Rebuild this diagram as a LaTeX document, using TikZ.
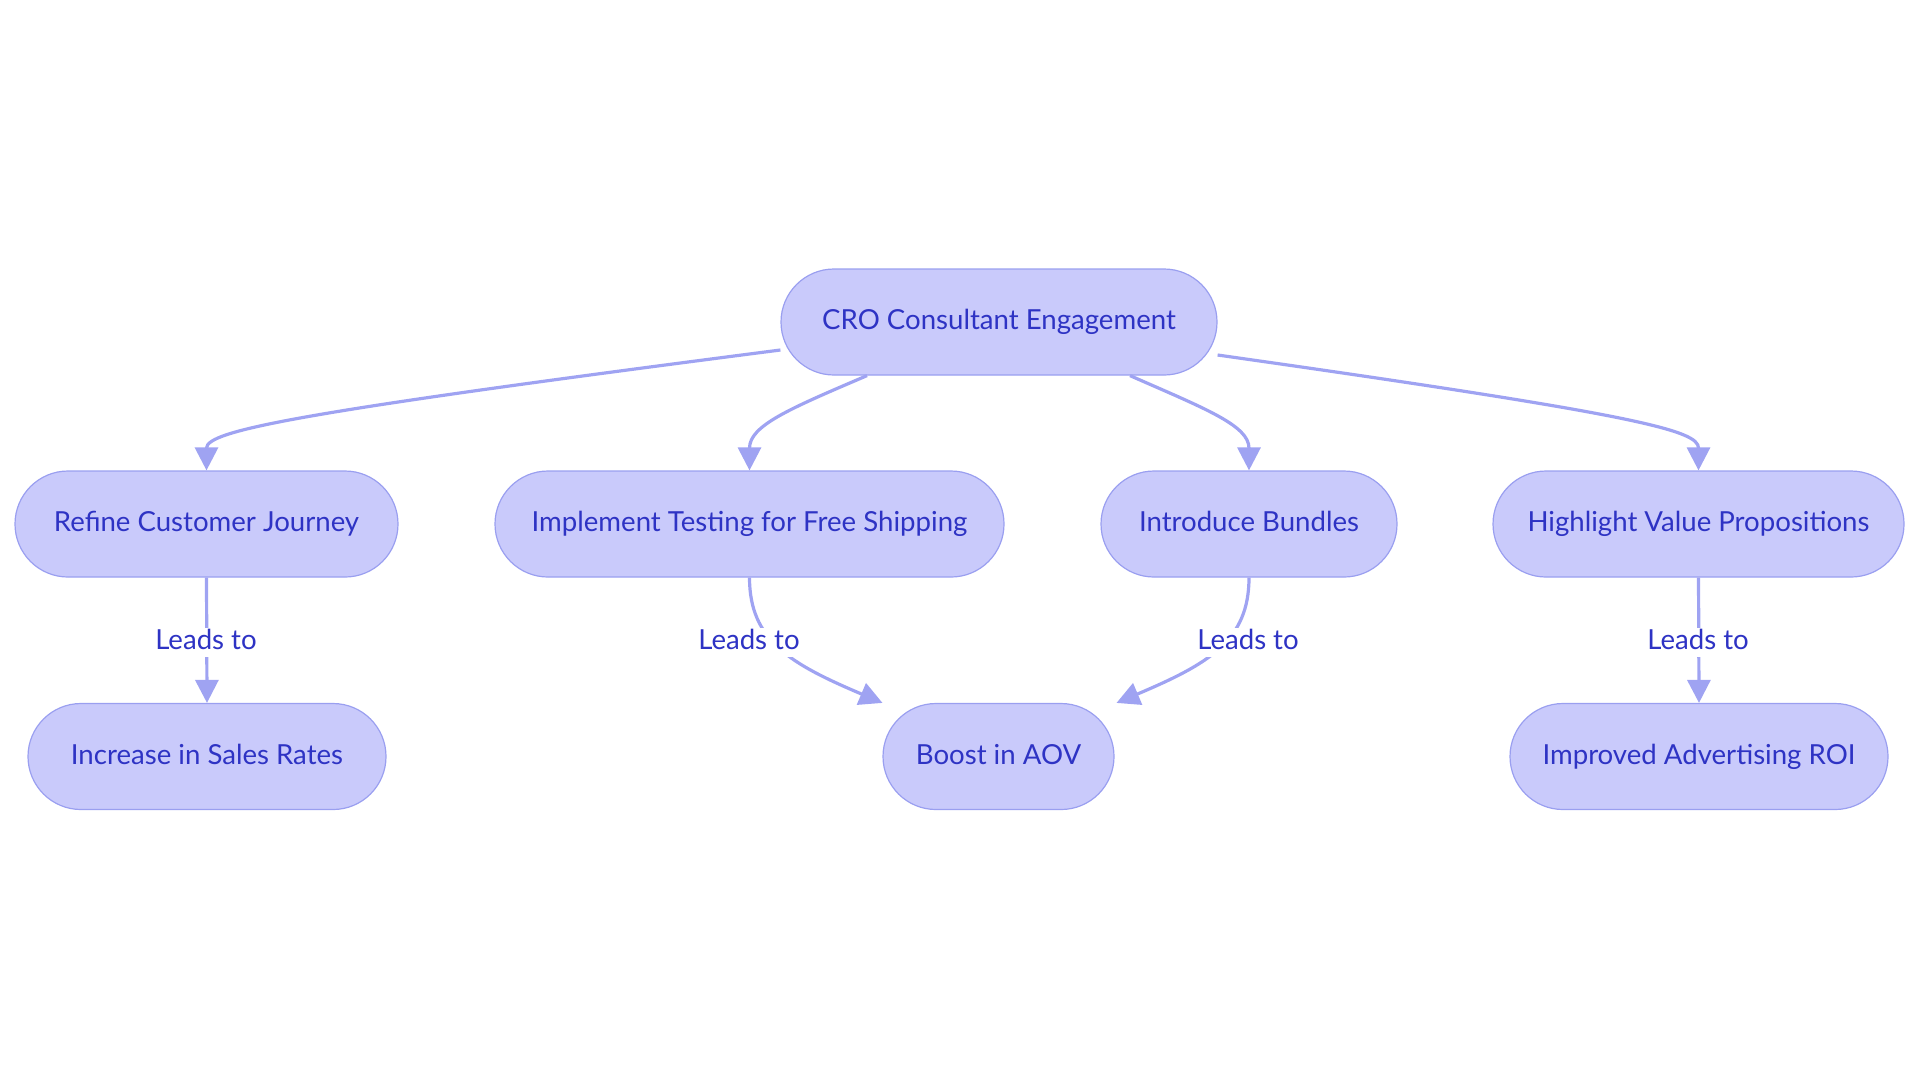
\documentclass[tikz,border=0pt]{standalone}
\usepackage{fontspec}
\setmainfont{Lato}
\usepackage{tikz}
\usetikzlibrary{calc}
\usetikzlibrary{shapes.misc}
\usetikzlibrary{arrows.meta}
\definecolor{pillfill}{HTML}{C9CAFB}
\definecolor{pilldraw}{HTML}{9A9FF0}
\definecolor{pilltext}{HTML}{2E33C4}
\definecolor{linkcol}{HTML}{9FA3F2}
\tikzset{
  pill/.style={shape=rounded rectangle, draw=pilldraw, fill=pillfill, text=pilltext,
    line width=0.6pt, minimum height=53pt, inner sep=0pt,
    text height=0.95em, text depth=0.2em,
    font=\fontsize{13.8}{17}\selectfont},
  leadlabel/.style={fill=white, text=pilltext, inner sep=1.5pt,
    text height=0.95em, text depth=0.2em,
    font=\fontsize{13.8}{17}\selectfont},
  link/.style={draw=linkcol, line width=1.6pt, -{Triangle[length=11.5pt,width=11.5pt]}}
}
\newcommand{\pillnode}[5]{\node[pill, minimum width=#4] (#1) at ( #2 , #3 ) {#5};}
\newcommand{\leadnode}[3]{\node[leadlabel] (#1) at ( #2 , #3 ) {Leads to};}

\begin{document}
\begin{tikzpicture}[x=0.5pt, y=-0.5pt]
        \useasboundingbox (0,0) rectangle (1920,1083);

        % top
        \pillnode{root}{999}{322}{218pt}{CRO Consultant Engagement}
        % row1
        \pillnode{refine}{206.5}{524}{191.5pt}{Refine Customer Journey}
        \pillnode{implement}{749.5}{524}{254.5pt}{Implement Testing for Free Shipping}
        \pillnode{introduce}{1249}{524}{148pt}{Introduce Bundles}
        \pillnode{highlight}{1698.5}{524}{205.5pt}{Highlight Value Propositions}
        % row2
        \pillnode{increase}{207}{756.5}{179pt}{Increase in Sales Rates}
        \pillnode{boost}{998.5}{756.5}{115.5pt}{Boost in AOV}
        \pillnode{improved}{1699}{756.5}{189pt}{Improved Advertising ROI}

        % links from the top
        \draw[link] ($(root.west)+(0,28)$) .. controls +(-481,62) and +(0,-40) .. (refine.north);
        \draw[link] ($(root.south)+(-132,0)$) .. controls +(-77,33) and +(0,-45) .. (implement.north);
        \draw[link] ($(root.south)+(131,0)$) .. controls +(75,33) and +(0,-45) .. (introduce.north);
        \draw[link] ($(root.east)+(0,33)$) .. controls +(423,60) and +(0,-40) .. (highlight.north);

        % links to row2
        \draw[link] (refine.south) -- (increase.north);
        \draw[link] (implement.south) .. controls +(0,63) and +(-92,-39) .. ($(boost.north)+(-116,0)$);
        \draw[link] (introduce.south) .. controls +(0,63) and +(92,-39) .. ($(boost.north)+(118,0)$);
        \draw[link] (highlight.south) -- (improved.north);

        % labels
        \leadnode{lead1}{206}{642}
        \leadnode{lead2}{749}{642}
        \leadnode{lead3}{1248}{642}
        \leadnode{lead4}{1698}{642}
\end{tikzpicture}
\end{document}
